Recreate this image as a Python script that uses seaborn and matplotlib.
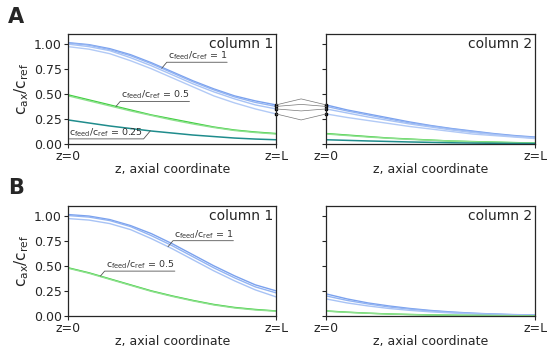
import matplotlib
matplotlib.use("Agg")
import matplotlib.pyplot as plt
from matplotlib.lines import Line2D
import numpy as np
import seaborn as sns

# axial positions, 0 = z=0, 1 = z=L
z = [0.0, 0.1, 0.2, 0.3, 0.4, 0.5, 0.6, 0.7, 0.8, 0.9, 1.0]

# panel A, column 1
a1_blue = [
    [1.01, 0.99, 0.95, 0.89, 0.81, 0.72, 0.63, 0.55, 0.48, 0.43, 0.39],
    [1.005, 0.985, 0.94, 0.88, 0.80, 0.71, 0.62, 0.54, 0.47, 0.415, 0.375],
    [0.995, 0.97, 0.93, 0.86, 0.78, 0.69, 0.60, 0.52, 0.45, 0.39, 0.35],
    [0.97, 0.945, 0.90, 0.83, 0.75, 0.66, 0.57, 0.48, 0.41, 0.35, 0.30],
]
a1_green = [
    [0.49, 0.44, 0.39, 0.34, 0.29, 0.25, 0.21, 0.17, 0.14, 0.12, 0.105],
    [0.48, 0.43, 0.38, 0.33, 0.285, 0.24, 0.20, 0.165, 0.135, 0.115, 0.10],
]
a1_teal = [[0.24, 0.21, 0.18, 0.155, 0.13, 0.11, 0.09, 0.075, 0.06, 0.05, 0.043]]

# panel A, column 2
a2_blue = [
    [0.39, 0.34, 0.30, 0.26, 0.22, 0.185, 0.155, 0.13, 0.105, 0.085, 0.07],
    [0.375, 0.33, 0.29, 0.25, 0.21, 0.18, 0.15, 0.125, 0.10, 0.08, 0.065],
    [0.35, 0.31, 0.27, 0.235, 0.20, 0.17, 0.14, 0.115, 0.095, 0.075, 0.06],
    [0.30, 0.265, 0.235, 0.205, 0.175, 0.15, 0.125, 0.10, 0.085, 0.07, 0.055],
]
a2_green = [
    [0.105, 0.09, 0.075, 0.06, 0.05, 0.04, 0.03, 0.025, 0.02, 0.015, 0.01],
    [0.10, 0.085, 0.07, 0.058, 0.047, 0.038, 0.03, 0.023, 0.018, 0.013, 0.01],
]
a2_teal = [[0.043, 0.037, 0.031, 0.026, 0.021, 0.017, 0.013, 0.01, 0.008, 0.006, 0.005]]

# panel B, column 1
b1_blue = [
    [1.01, 0.995, 0.96, 0.90, 0.82, 0.72, 0.61, 0.50, 0.40, 0.31, 0.25],
    [1.0, 0.985, 0.95, 0.89, 0.80, 0.70, 0.59, 0.48, 0.38, 0.29, 0.23],
    [0.97, 0.955, 0.92, 0.86, 0.77, 0.67, 0.56, 0.45, 0.35, 0.26, 0.19],
]
b1_green = [
    [0.48, 0.43, 0.37, 0.31, 0.25, 0.20, 0.155, 0.115, 0.085, 0.065, 0.05],
    [0.475, 0.425, 0.365, 0.305, 0.245, 0.195, 0.15, 0.11, 0.08, 0.06, 0.048],
]

# panel B, column 2
b2_blue = [
    [0.22, 0.17, 0.13, 0.10, 0.075, 0.055, 0.04, 0.028, 0.02, 0.014, 0.01],
    [0.20, 0.155, 0.12, 0.09, 0.068, 0.05, 0.036, 0.026, 0.018, 0.012, 0.008],
    [0.17, 0.13, 0.10, 0.075, 0.056, 0.041, 0.03, 0.021, 0.015, 0.01, 0.007],
]
b2_green = [
    [0.05, 0.038, 0.028, 0.02, 0.015, 0.011, 0.008, 0.006, 0.004, 0.003, 0.002],
    [0.048, 0.036, 0.027, 0.019, 0.014, 0.01, 0.007, 0.005, 0.004, 0.003, 0.002],
]

blue_cols = ["#7aa1ee", "#93b4f2", "#a8c3f5", "#b2caf6"]
green_cols = ["#3fcf3f", "#8ee08e"]
teal_col = "#1f8c8c"

sns.set_style("ticks")
plt.rcParams["font.family"] = ["DejaVu Sans"]

fig = plt.figure(figsize=(5.5, 3.48), dpi=100)
pos = {
    "A1": [0.124, 0.586, 0.378, 0.316],
    "A2": [0.593, 0.586, 0.380, 0.316],
    "B1": [0.124, 0.092, 0.378, 0.316],
    "B2": [0.593, 0.092, 0.380, 0.316],
}
axes = {k: fig.add_axes(v) for k, v in pos.items()}


def draw(ax, blues, greens, teals, name, show_ylabels):
    for i, c in enumerate(blues):
        sns.lineplot(x=z, y=c, ax=ax, color=blue_cols[i], lw=1.0)
    for i, c in enumerate(greens):
        sns.lineplot(x=z, y=c, ax=ax, color=green_cols[i], lw=1.0)
    for c in teals:
        sns.lineplot(x=z, y=c, ax=ax, color=teal_col, lw=1.1)
    ax.set_xlim(0, 1)
    ax.set_ylim(0, 1.095)
    ax.set_xticks([0, 1])
    ax.set_xticklabels(["z=0", "z=L"], fontsize=9)
    ax.set_yticks([0, 0.25, 0.5, 0.75, 1.0])
    if show_ylabels:
        ax.set_yticklabels(["0.00", "0.25", "0.50", "0.75", "1.00"], fontsize=9)
        ax.set_ylabel(r"$\mathregular{c_{ax}/c_{ref}}$", fontsize=11, labelpad=2)
    else:
        ax.set_yticklabels([])
    ax.set_xlabel("z, axial coordinate", fontsize=9, labelpad=0)
    ax.tick_params(length=3, width=0.8, pad=1.5)
    ax.text(0.985, 0.97, name, transform=ax.transAxes, ha="right", va="top", fontsize=10)
    for s in ax.spines.values():
        s.set_linewidth(0.9)


draw(axes["A1"], a1_blue, a1_green, a1_teal, "column 1", True)
draw(axes["A2"], a2_blue, a2_green, a2_teal, "column 2", False)
draw(axes["B1"], b1_blue, b1_green, [], "column 1", True)
draw(axes["B2"], b2_blue, b2_green, [], "column 2", False)


def label(ax, text, zp, curve, dx, dy, left_of_point=False):
    # leader from the curve to an underline below the label
    yp = np.interp(zp, z, curve)
    if left_of_point:
        ha, rel = "right", (0, 0)
    else:
        ha, rel = "left", (1, 0)
    ax.annotate(
        text, xy=(zp, yp), xytext=(dx, dy), textcoords="offset pixels",
        fontsize=6.8, ha=ha, va="bottom", color="#333333",
        arrowprops=dict(arrowstyle="-", color="#555555", lw=0.6, relpos=rel,
                        connectionstyle="angle,angleA=0,angleB=50",
                        patchA=None, shrinkA=0, shrinkB=0),
    )


feed = r"$\mathregular{c_{feed}/c_{ref}}$"
label(axes["A1"], feed + " = 1", 0.45, a1_blue[1], 6, 6)
label(axes["A1"], feed + " = 0.5", 0.23, a1_green[0], 5, 5)
label(axes["A1"], feed + " = 0.25", 0.395, a1_teal[0], -7, -8, left_of_point=True)
label(axes["B1"], feed + " = 1", 0.48, b1_blue[2], 6, 6)
label(axes["B1"], feed + " = 0.5", 0.155, b1_green[0], 6, 5)

# connectors between the columns of panel A
fig.canvas.draw()
n = len(a1_blue)
for i, (c1, c2) in enumerate(zip(a1_blue, a2_blue)):
    pa = axes["A1"].transData.transform((1, c1[-1]))
    pb = axes["A2"].transData.transform((0, c2[0]))
    mid = (pa + pb) / 2 + np.array([0, ((n - 1) / 2 - i) * 4.0])
    xs = [pa[0], mid[0], pb[0]]
    ys = [pa[1], mid[1], pb[1]]
    fig.add_artist(Line2D(xs, ys, transform=None, color="#777777", lw=0.5))
    axes["A1"].plot([1], [c1[-1]], marker="s", ms=1.6, color="black", clip_on=False)
    axes["A2"].plot([0], [c2[0]], marker="s", ms=1.6, color="black", clip_on=False)

fig.text(0.015, 0.952, "A", fontsize=15, fontweight="bold", va="center")
fig.text(0.015, 0.46, "B", fontsize=15, fontweight="bold", va="center")

fig.savefig("out.png", dpi=100)
